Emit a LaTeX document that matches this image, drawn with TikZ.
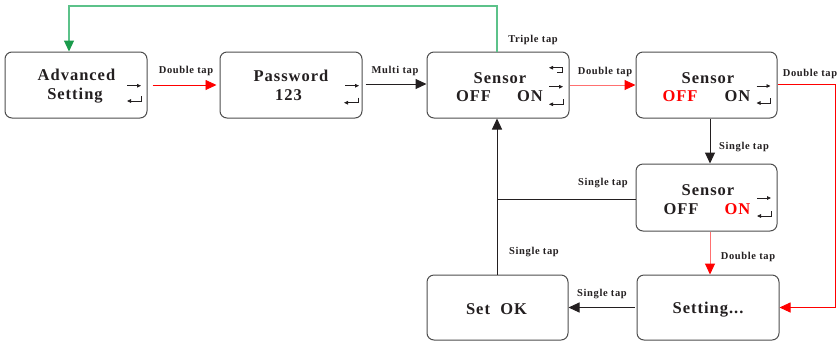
\documentclass[tikz,border=0pt]{standalone}
\usepackage{fontspec}
\setmainfont{Liberation Serif}
\newfontfamily\boxfont[LetterSpace=6]{Liberation Serif}
\newfontfamily\tapfont[LetterSpace=6]{Liberation Serif}
\usetikzlibrary{arrows.meta}
\definecolor{ink}{HTML}{231F20}
\definecolor{boxline}{HTML}{4D4D4D}
\definecolor{lightred}{HTML}{FF7070}
\definecolor{greenline}{HTML}{5CC28A}
\definecolor{greenhead}{HTML}{1A9B4B}
\tikzset{
  box/.style={draw=boxline, line width=1pt, rounded corners=7pt, minimum width=142pt, minimum height=66pt, inner sep=0pt},
  bt/.style={anchor=base, inner sep=0pt, text=ink, font=\boxfont\bfseries\fontsize{16.5}{18}\selectfont},
  tap/.style={inner sep=0pt, text=ink, font=\tapfont\bfseries\fontsize{10.5}{12}\selectfont},
  bigtip/.style={-{Triangle[length=11pt,width=10pt]}},
  conn/.style={line width=1pt, draw=ink, bigtip},
  redc/.style={line width=0.9pt, draw=red, -{Triangle[length=11pt,width=10pt,color=red]}},
  lredc/.style={line width=1pt, draw=lightred, -{Triangle[length=11pt,width=10pt,color=red]}},
  greenc/.style={line width=1.1pt, draw=greenline, -{Triangle[length=11pt,width=10pt,color=greenhead]}},
  icon/.style={line width=0.8pt, draw=ink, -{Triangle[length=4pt,width=3.6pt]}},
  pics/rarr/.style={code={\draw[icon] (-7,0) -- (7,0);}},
  pics/retarr/.style={code={\draw[icon] (7,-5) -- (7,0) -- (-7,0);}},
  pics/backarr/.style={code={\draw[icon] (1.5,4.6) -- (6.5,4.6) -- (6.5,0) -- (-6.5,0);}},
}
\begin{document}
\begin{tikzpicture}[x=1pt,y=-1pt]
\useasboundingbox (0,0) rectangle (840,341);

% boxes
\node[box] (b1) at (76,85) {};
\node[box] (b2) at (291,85) {};
\node[box] (b3) at (498,85) {};
\node[box, minimum width=141pt] (b4) at (706.5,85) {};
\node[box, minimum width=141pt, minimum height=67pt] (b5) at (706.5,197.5) {};
\node[box, minimum height=65pt] (b6) at (708,307.5) {};
\node[box, minimum width=141pt, minimum height=65pt] (b7) at (497.5,307.5) {};

% box texts
\node[bt] (t1a) at (76.5,80) {Advanced};
\node[bt] (t1b) at (75,99.5) {Setting};
\node[bt] (t2a) at (291,81.7) {Password};
\node[bt] (t2b) at (288.5,100.7) {123};
\node[bt] (t3a) at (500,83.3) {Sensor};
\node[bt] (t3b) at (473.5,101.7) {OFF};
\node[bt] (t3c) at (530,101.7) {ON};
\node[bt] (t4a) at (708,83.3) {Sensor};
\node[bt, text=red] (t4b) at (680,101.7) {OFF};
\node[bt] (t4c) at (737.5,101.7) {ON};
\node[bt] (t5a) at (708,195) {Sensor};
\node[bt] (t5b) at (681,214) {OFF};
\node[bt, text=red] (t5c) at (737.5,214) {ON};
\node[bt] (t6) at (708,313) {Setting...};
\node[bt] (t7) at (496.5,314) {Set\ \ OK};

% icons
\pic at (134,85.7) {rarr};
\pic at (134,101) {retarr};
\pic at (352,85.7) {rarr};
\pic at (351,102.7) {retarr};
\pic at (555.5,67.7) {backarr};
\pic at (556,86.7) {rarr};
\pic at (556,104.3) {retarr};
\pic at (763.5,86) {rarr};
\pic at (763.5,103) {retarr};
\pic at (764,198) {rarr};
\pic at (764,216) {retarr};

% coordinates
\coordinate (g1) at (497,6);
\coordinate (rc) at (835,84);
\coordinate (jn) at (497,199);
\coordinate (my) at (0,84);

% connectors
\draw[greenc] (b3.north -| g1) -- (g1) -| ([xshift=-7pt]b1.north);
\draw[redc, shorten <=5pt, shorten >=3pt] (b1.east) -- (b2.west);
\draw[conn, shorten <=3pt] (b2.east |- my) -- (b3.west |- my);
\draw[lredc] (b3.east) -- (b4.west);
\draw[redc] (b4.east |- rc) -- (rc) |- (b6.east);
\draw[conn] ([xshift=3.5pt]b4.south) -- ([xshift=3.5pt]b5.north);
\draw[line width=1pt, draw=ink] (b5.west |- jn) -- (jn);
\draw[conn] (b7.north -| jn) -- (b3.south -| jn);
\draw[lredc] ([xshift=3.5pt]b5.south) -- ([xshift=2pt]b6.north);
\draw[conn, shorten <=2pt] (b6.west) -- (b7.east);

% tap labels
\node[tap] (l1) at (186,71) {Double tap};
\node[tap] (l2) at (395,71) {Multi tap};
\node[tap] (l3) at (533,40) {Triple tap};
\node[tap] (l4) at (605,72) {Double tap};
\node[tap] (l5) at (810,74) {Double tap};
\node[tap] (l6) at (744,147) {Single tap};
\node[tap] (l7) at (603,183) {Single tap};
\node[tap] (l8) at (534,252) {Single tap};
\node[tap] (l9) at (748,257) {Double tap};
\node[tap] (l10) at (602,294) {Single tap};
\end{tikzpicture}
\end{document}
